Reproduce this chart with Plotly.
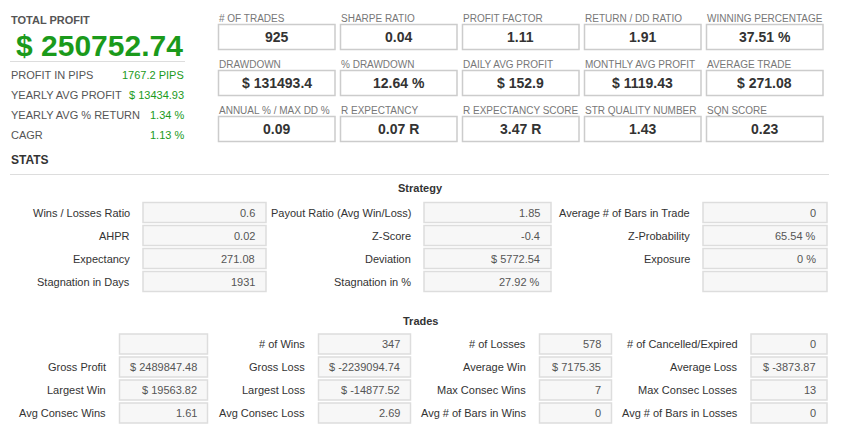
import plotly.graph_objects as go

# ---------------- data ----------------
total_profit_label = "TOTAL PROFIT"
total_profit_value = "$ 250752.74"
summary_labels = ["PROFIT IN PIPS", "YEARLY AVG PROFIT", "YEARLY AVG % RETURN", "CAGR"]
summary_values = ["1767.2 PIPS", "$ 13434.93", "1.34 %", "1.13 %"]

kpi_labels = [
    ["# OF TRADES", "SHARPE RATIO", "PROFIT FACTOR", "RETURN / DD RATIO", "WINNING PERCENTAGE"],
    ["DRAWDOWN", "% DRAWDOWN", "DAILY AVG PROFIT", "MONTHLY AVG PROFIT", "AVERAGE TRADE"],
    ["ANNUAL % / MAX DD %", "R EXPECTANCY", "R EXPECTANCY SCORE", "STR QUALITY NUMBER", "SQN SCORE"],
]
kpi_values = [
    ["925", "0.04", "1.11", "1.91", "37.51 %"],
    ["$ 131493.4", "12.64 %", "$ 152.9", "$ 1119.43", "$ 271.08"],
    ["0.09", "0.07 R", "3.47 R", "1.43", "0.23"],
]

strategy_labels = [
    ["Wins / Losses Ratio", "AHPR", "Expectancy", "Stagnation in Days"],
    ["Payout Ratio (Avg Win/Loss)", "Z-Score", "Deviation", "Stagnation in %"],
    ["Average # of Bars in Trade", "Z-Probability", "Exposure", ""],
]
strategy_values = [
    ["0.6", "0.02", "271.08", "1931"],
    ["1.85", "-0.4", "$ 5772.54", "27.92 %"],
    ["0", "65.54 %", "0 %", ""],
]

trades_labels = [
    ["", "Gross Profit", "Largest Win", "Avg Consec Wins"],
    ["# of Wins", "Gross Loss", "Largest Loss", "Avg Consec Loss"],
    ["# of Losses", "Average Win", "Max Consec Wins", "Avg # of Bars in Wins"],
    ["# of Cancelled/Expired", "Average Loss", "Max Consec Losses", "Avg # of Bars in Losses"],
]
trades_values = [
    ["", "$ 2489847.48", "$ 19563.82", "1.61"],
    ["347", "$ -2239094.74", "$ -14877.52", "2.69"],
    ["578", "$ 7175.35", "7", "0"],
    ["0", "$ -3873.87", "13", "0"],
]

# ---------------- style / layout ----------------
W, H = 854, 431
FONT = "Liberation Sans, Arial, sans-serif"
GREEN = "#1b9a1b"
shapes = []
ann = []


def text(x, y, t, size=11, color="#333", bold=False, xanchor="left"):
    if bold:
        t = "<b>" + t + "</b>"
    ann.append(dict(x=x, y=y, xref="x", yref="y", text=t, showarrow=False,
                    xanchor=xanchor, yanchor="middle", borderpad=0,
                    font=dict(family=FONT, size=size, color=color)))


def rect(x0, y0, x1, y1, line="#ccc", fill="#fff", width=1):
    shapes.append(dict(type="rect", xref="x", yref="y", x0=x0, y0=y0, x1=x1, y1=y1,
                       line=dict(color=line, width=width), fillcolor=fill, layer="below"))


def hline(x0, x1, y, color="#ddd"):
    shapes.append(dict(type="line", xref="x", yref="y", x0=x0, x1=x1, y0=y, y1=y,
                       line=dict(color=color, width=1), layer="below"))


# top-left summary
text(10, 20, total_profit_label, size=11, color="#555", bold=True)
text(15, 45, total_profit_value, size=30, color=GREEN, bold=True)
hline(10, 185, 61.5)
for i, (lab, val) in enumerate(zip(summary_labels, summary_values)):
    y = 75 + 20 * i
    text(10, y, lab, size=11, color="#555")
    text(185, y, val, size=11, color=GREEN, xanchor="right")

# KPI boxes
box_x0 = [218, 340, 462, 584, 706]
box_w = 117
row_label_y = [18, 64, 110]
row_box_y = [24, 70, 116]
box_h = 25.5
for r in range(3):
    for c in range(5):
        x0 = box_x0[c]
        text(x0, row_label_y[r], kpi_labels[r][c], size=10, color="#777")
        rect(x0 + 0.5, row_box_y[r] + 0.5, x0 + box_w, row_box_y[r] + box_h, line="#ccc", width=1.5)
        text(x0 + box_w / 2, row_box_y[r] + box_h / 2 + 0.5, kpi_values[r][c], size=14,
             color="#333", bold=True, xanchor="center")

# STATS header
text(10, 160, "STATS", size=12, color="#333", bold=True)
hline(10, 829, 174.5, color="#ddd")

# Strategy section
text(420, 188, "Strategy", size=11, color="#333", bold=True, xanchor="center")
s_label_r = [131, 412, 691]
s_box = [(143, 266), (424, 551), (703, 827)]
s_y0 = 202.5
pitch = 23
bh = 20
for c in range(3):
    for r in range(4):
        y0 = s_y0 + pitch * r
        yc = y0 + bh / 2
        if strategy_labels[c][r]:
            text(s_label_r[c], yc, strategy_labels[c][r], size=11, color="#333", xanchor="right")
        rect(s_box[c][0], y0, s_box[c][1], y0 + bh, line="#ddd", fill="#f7f7f7", width=1.5)
        if strategy_values[c][r]:
            text(s_box[c][1] - 10, yc, strategy_values[c][r], size=11, color="#555", xanchor="right")

# Trades section
text(420, 320.5, "Trades", size=11, color="#333", bold=True, xanchor="center")
t_label_r = [107, 305.5, 527, 739]
t_box = [(119.5, 207.5), (318.5, 410.5), (539.5, 611.5), (751, 827)]
t_y0 = 334
for c in range(4):
    for r in range(4):
        y0 = t_y0 + pitch * r
        yc = y0 + bh / 2
        if trades_labels[c][r]:
            text(t_label_r[c], yc, trades_labels[c][r], size=11, color="#333", xanchor="right")
        rect(t_box[c][0], y0, t_box[c][1], y0 + bh, line="#ddd", fill="#f7f7f7", width=1.5)
        if trades_values[c][r]:
            text(t_box[c][1] - 10, yc, trades_values[c][r], size=11, color="#555", xanchor="right")

fig = go.Figure()
fig.update_layout(
    width=W, height=H, autosize=False,
    margin=dict(l=0, r=0, t=0, b=0),
    paper_bgcolor="white", plot_bgcolor="white",
    xaxis=dict(range=[0, W], visible=False, fixedrange=True),
    yaxis=dict(range=[H, 0], visible=False, fixedrange=True),
    shapes=shapes, annotations=ann, showlegend=False,
)
fig.write_html("out.html", config={"displayModeBar": False},
               post_script="document.body.style.margin='0';")
